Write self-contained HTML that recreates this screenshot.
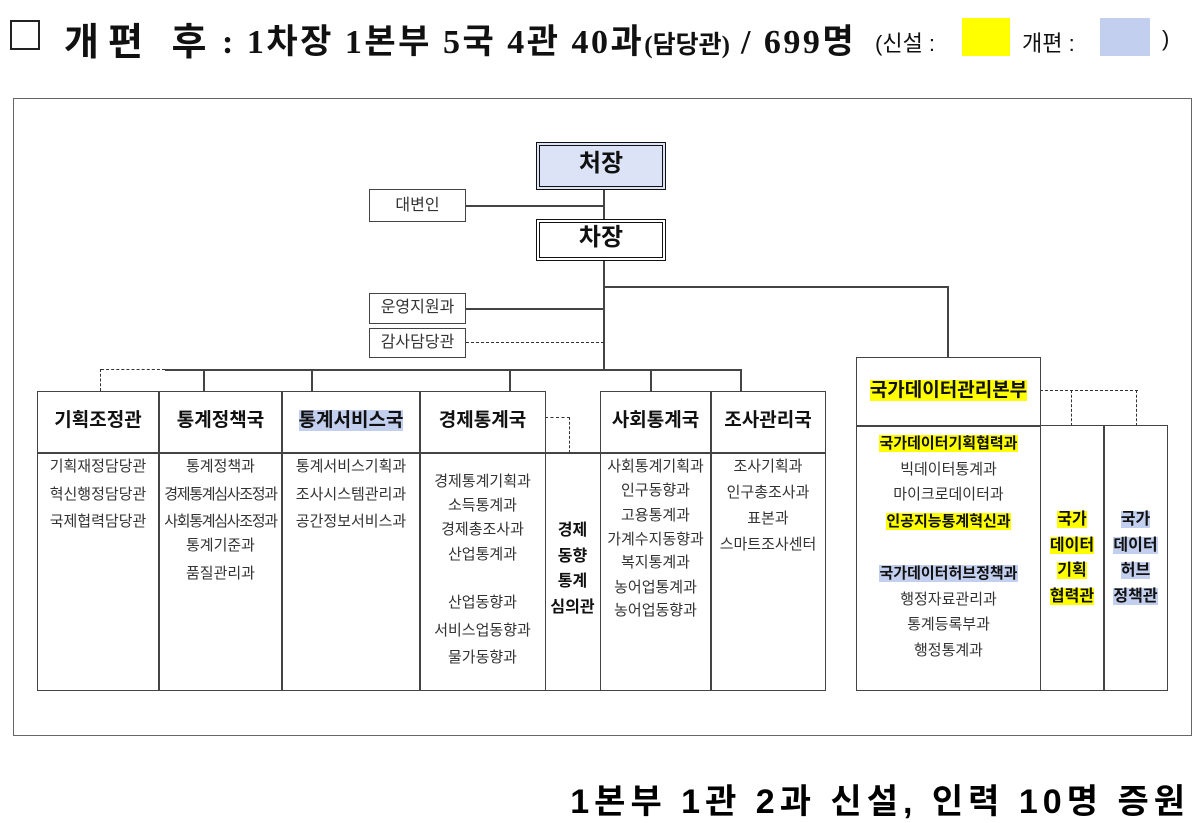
<!DOCTYPE html>
<html><head><meta charset="utf-8">
<style>
*{margin:0;padding:0;box-sizing:border-box}
body{width:1200px;height:822px;background:#fff;position:relative;overflow:hidden;font-family:"Liberation Sans","Noto Sans CJK KR","NanumGothic",sans-serif;color:#222}
.a{position:absolute}
.b{position:absolute;border:1.5px solid #444;background:#fff}
.h{position:absolute;background:#444}
.v{position:absolute;background:#444;width:1.5px}
.t{position:absolute;text-align:center;font-size:15px;line-height:20px;height:20px;color:#333;white-space:nowrap}
.hd{position:absolute;text-align:center;font-size:19px;font-weight:bold;line-height:24px;color:#111;white-space:nowrap}
.bd{font-weight:bold;color:#111;font-size:16px}
.y{background:#ffff00}
.bl{background:#c3cfee}
.dd{position:absolute;border-color:#333;border-style:dashed;border-width:0}
</style></head><body>
<!-- title -->
<div class="a" style="left:10px;top:20px;width:30px;height:30px;border:2px solid #222"></div>
<div class="a" style="left:64px;top:11px;font-size:38px;font-weight:bold;color:#111;letter-spacing:9px;white-space:nowrap">개편 후</div>
<div class="a" style="left:222px;top:14px;font-size:34px;font-weight:bold;color:#111;white-space:nowrap;font-family:'Liberation Serif','Noto Sans CJK KR',serif;letter-spacing:2.5px">: 1차장 1본부 5국 4관 40과<span style="font-size:25px;letter-spacing:0">(담당관)</span> / 699명</div>
<div class="a" style="left:875px;top:26px;font-size:22px;color:#111;white-space:nowrap">(신설 :</div>
<div class="a" style="left:962px;top:18px;width:48px;height:38px;background:#ffff00"></div>
<div class="a" style="left:1022px;top:26px;font-size:22px;color:#111;white-space:nowrap">개편 :</div>
<div class="a" style="left:1100px;top:18px;width:50px;height:38px;background:#c3cfee"></div>
<div class="a" style="left:1162px;top:26px;font-size:22px;color:#111">)</div>

<!-- frame -->
<div class="a" style="left:13px;top:98px;width:1179px;height:638px;border:1.5px solid #666"></div>

<!-- connectors -->
<div class="v" style="left:603px;top:190px;height:180px"></div>
<div class="h" style="left:466px;top:205px;width:138px;height:1.5px"></div>
<div class="h" style="left:466px;top:308px;width:138px;height:1.5px"></div>
<div class="dd" style="left:466px;top:342px;width:138px;border-top-width:1.5px;border-style:dashed"></div>
<div class="h" style="left:603px;top:286px;width:345px;height:1.5px"></div>
<div class="v" style="left:947px;top:286px;height:72px"></div>
<div class="h" style="left:165px;top:369px;width:576px;height:1.5px"></div>
<div class="dd" style="left:101px;top:369px;width:64px;border-top-width:1.5px"></div>
<div class="dd" style="left:100px;top:369px;height:22px;border-left-width:1.5px"></div>
<div class="v" style="left:203px;top:369px;height:22px"></div>
<div class="v" style="left:311px;top:369px;height:22px"></div>
<div class="v" style="left:509px;top:369px;height:22px"></div>
<div class="v" style="left:650px;top:369px;height:22px"></div>
<div class="v" style="left:740px;top:369px;height:22px"></div>
<div class="dd" style="left:545px;top:417px;width:25px;border-top-width:1.5px"></div>
<div class="dd" style="left:569px;top:417px;height:36px;border-left-width:1.5px"></div>
<div class="dd" style="left:1040px;top:390px;width:98px;border-top-width:1.5px"></div>
<div class="dd" style="left:1071px;top:390px;height:36px;border-left-width:1.5px"></div>
<div class="dd" style="left:1136px;top:390px;height:36px;border-left-width:1.5px"></div>

<!-- head boxes -->
<div class="a" style="left:536px;top:142px;width:130px;height:48px;border:4px double #111;background:#dce3f6"></div>
<div class="hd" style="left:536px;top:152px;width:130px;font-size:24px">처장</div>
<div class="a" style="left:536px;top:219px;width:130px;height:42px;border:4px double #111;background:#fff"></div>
<div class="hd" style="left:536px;top:226px;width:130px;font-size:24px">차장</div>
<div class="b" style="left:369px;top:189px;width:97px;height:33px"></div>
<div class="t" style="left:369px;top:196px;width:97px;font-size:16px">대변인</div>
<div class="b" style="left:369px;top:293px;width:97px;height:31px"></div>
<div class="t" style="left:369px;top:298px;width:97px;font-size:16px">운영지원과</div>
<div class="b" style="left:369px;top:328px;width:97px;height:30px"></div>
<div class="t" style="left:369px;top:333px;width:97px;font-size:16px">감사담당관</div>

<!-- main table -->
<div class="a" style="left:37px;top:391px;width:509px;height:300px;border:1.5px solid #444"></div>
<div class="a" style="left:545px;top:452px;width:56px;height:239px;border:1.5px solid #444;border-left:0"></div>
<div class="a" style="left:600px;top:391px;width:226px;height:300px;border:1.5px solid #444"></div>
<div class="h" style="left:37px;top:452px;width:788px;height:1.5px"></div>
<div class="v" style="left:158px;top:391px;height:300px"></div>
<div class="v" style="left:281px;top:391px;height:300px"></div>
<div class="v" style="left:419px;top:391px;height:300px"></div>
<div class="v" style="left:710px;top:391px;height:300px"></div>

<div class="hd" style="left:37px;top:409px;width:122px">기획조정관</div>
<div class="hd" style="left:159px;top:409px;width:123px">통계정책국</div>
<div class="hd" style="left:282px;top:409px;width:138px"><span class="bl">통계서비스국</span></div>
<div class="hd" style="left:420px;top:409px;width:125px">경제통계국</div>
<div class="hd" style="left:600px;top:409px;width:111px">사회통계국</div>
<div class="hd" style="left:711px;top:409px;width:114px">조사관리국</div>

<div class="t" style="left:37px;top:457px;width:122px">기획재정담당관</div>
<div class="t" style="left:37px;top:485px;width:122px">혁신행정담당관</div>
<div class="t" style="left:37px;top:512px;width:122px">국제협력담당관</div>

<div class="t" style="left:159px;top:457px;width:123px">통계정책과</div>
<div class="t" style="left:159px;top:485px;width:123px;letter-spacing:-1.3px">경제통계심사조정과</div>
<div class="t" style="left:159px;top:512px;width:123px;letter-spacing:-1.3px">사회통계심사조정과</div>
<div class="t" style="left:159px;top:536px;width:123px">통계기준과</div>
<div class="t" style="left:159px;top:564px;width:123px">품질관리과</div>

<div class="t" style="left:282px;top:457px;width:138px">통계서비스기획과</div>
<div class="t" style="left:282px;top:485px;width:138px">조사시스템관리과</div>
<div class="t" style="left:282px;top:512px;width:138px">공간정보서비스과</div>

<div class="t" style="left:420px;top:472px;width:125px">경제통계기획과</div>
<div class="t" style="left:420px;top:496px;width:125px">소득통계과</div>
<div class="t" style="left:420px;top:520px;width:125px">경제총조사과</div>
<div class="t" style="left:420px;top:545px;width:125px">산업통계과</div>
<div class="t" style="left:420px;top:593px;width:125px">산업동향과</div>
<div class="t" style="left:420px;top:621px;width:125px">서비스업동향과</div>
<div class="t" style="left:420px;top:648px;width:125px">물가동향과</div>

<div class="t bd" style="left:545px;top:521px;width:55px">경제</div>
<div class="t bd" style="left:545px;top:547px;width:55px">동향</div>
<div class="t bd" style="left:545px;top:572px;width:55px">통계</div>
<div class="t bd" style="left:545px;top:598px;width:55px">심의관</div>

<div class="t" style="left:600px;top:457px;width:111px">사회통계기획과</div>
<div class="t" style="left:600px;top:481px;width:111px">인구동향과</div>
<div class="t" style="left:600px;top:506px;width:111px">고용통계과</div>
<div class="t" style="left:600px;top:530px;width:111px">가계수지동향과</div>
<div class="t" style="left:600px;top:553px;width:111px">복지통계과</div>
<div class="t" style="left:600px;top:578px;width:111px">농어업통계과</div>
<div class="t" style="left:600px;top:601px;width:111px">농어업동향과</div>

<div class="t" style="left:711px;top:457px;width:114px">조사기획과</div>
<div class="t" style="left:711px;top:483px;width:114px">인구총조사과</div>
<div class="t" style="left:711px;top:509px;width:114px">표본과</div>
<div class="t" style="left:711px;top:535px;width:114px">스마트조사센터</div>

<!-- right block -->
<div class="a" style="left:856px;top:357px;width:185px;height:334px;border:1.5px solid #444"></div>
<div class="a" style="left:1040px;top:425px;width:128px;height:266px;border:1.5px solid #444"></div>
<div class="h" style="left:856px;top:425px;width:185px;height:1.5px"></div>
<div class="v" style="left:1103px;top:425px;height:266px"></div>
<div class="hd" style="left:856px;top:379px;width:185px"><span class="y">국가데이터관리본부</span></div>

<div class="t bd" style="left:856px;top:434px;width:185px;font-size:15px"><span class="y">국가데이터기획협력과</span></div>
<div class="t" style="left:856px;top:460px;width:185px">빅데이터통계과</div>
<div class="t" style="left:856px;top:485px;width:185px">마이크로데이터과</div>
<div class="t bd" style="left:856px;top:512px;width:185px;font-size:15px"><span class="y">인공지능통계혁신과</span></div>
<div class="t bd" style="left:856px;top:564px;width:185px;font-size:15px"><span class="bl">국가데이터허브정책과</span></div>
<div class="t" style="left:856px;top:590px;width:185px">행정자료관리과</div>
<div class="t" style="left:856px;top:615px;width:185px">통계등록부과</div>
<div class="t" style="left:856px;top:641px;width:185px">행정통계과</div>

<div class="t bd" style="left:1040px;top:510px;width:64px"><span class="y">국가</span></div>
<div class="t bd" style="left:1040px;top:536px;width:64px"><span class="y">데이터</span></div>
<div class="t bd" style="left:1040px;top:561px;width:64px"><span class="y">기획</span></div>
<div class="t bd" style="left:1040px;top:587px;width:64px"><span class="y">협력관</span></div>
<div class="t bd" style="left:1104px;top:510px;width:63px"><span class="bl">국가</span></div>
<div class="t bd" style="left:1104px;top:536px;width:63px"><span class="bl">데이터</span></div>
<div class="t bd" style="left:1104px;top:561px;width:63px"><span class="bl">허브</span></div>
<div class="t bd" style="left:1104px;top:587px;width:63px"><span class="bl">정책관</span></div>

<div class="a" style="right:10px;top:774px;font-size:34px;font-weight:bold;color:#000;letter-spacing:5px;white-space:nowrap">1본부 1관 2과 신설, 인력 10명 증원</div>
</body></html>
